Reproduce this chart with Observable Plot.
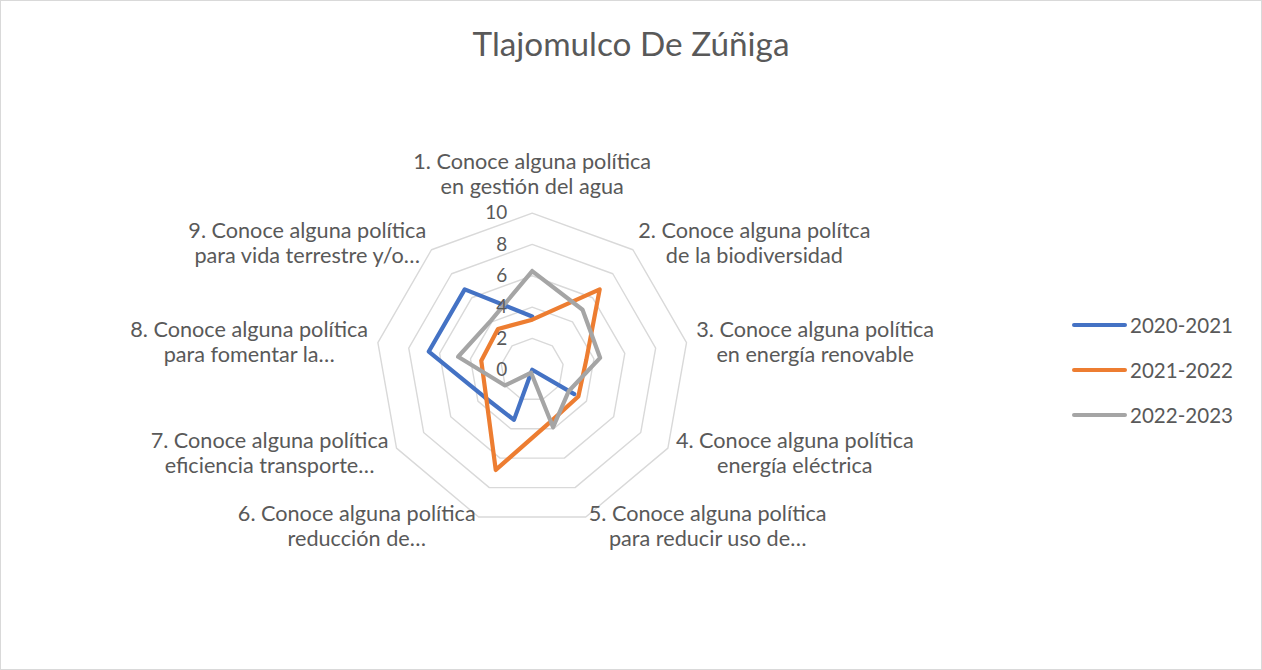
<!DOCTYPE html>
<html><head><meta charset="utf-8">
<script src="https://cdn.jsdelivr.net/npm/d3@7"></script>
<script src="https://cdn.jsdelivr.net/npm/@observablehq/plot@0.6"></script>
<style>
body{margin:0;background:#fff;}
#frame{position:relative;width:1260px;height:668px;border:1px solid #d9d9d9;font-family:Lato,sans-serif;color:#595959;overflow:hidden;background:#fff}
#title{height:80px;box-sizing:border-box;text-align:center;line-height:1;white-space:nowrap}
#legend{position:absolute;left:1071px;top:301px}
.row{display:flex;align-items:center;height:45px}
.sw{width:55px;height:4px;border-radius:2px;margin-right:3px}
</style></head><body>
<div id="frame"><div id="title">Tlajomulco De Zúñiga</div><div id="chart"></div><div id="legend"></div></div>
<script>
const chartTitle = "Tlajomulco De Zúñiga";
const axisLabels = [
  "1. Conoce alguna política\nen gestión del agua",
  "2. Conoce alguna polítca\nde la biodiversidad",
  "3. Conoce alguna política\nen energía renovable",
  "4. Conoce alguna política\nenergía eléctrica",
  "5. Conoce alguna política\npara reducir uso de…",
  "6. Conoce alguna política\nreducción de…",
  "7. Conoce alguna política\neficiencia transporte…",
  "8. Conoce alguna política\npara fomentar la…",
  "9. Conoce alguna política\npara vida terrestre y/o…"
];
const seriesNames = ["2020-2021", "2021-2022", "2022-2023"];
const values2020 = [3.4, null, null, 3.1, 0, 3.4, 3.5, 6.7, 6.7];
const values2021 = [3.2, 6.7, 3.5, 3.4, 3.5, 6.8, 3.4, 3.3, 3.4];
const values2022 = [6.3, 5.0, 4.4, 2.7, 3.9, 0.2, 2.0, 4.8, 4.1];
const tickValues = [0, 2, 4, 6, 8, 10];
const seriesColors = ["#4472C4", "#ED7D31", "#A5A5A5"];

// layout
const W = 1260, H = 588, CX = 530.7, CY = 288.3, RPX = 156.7, RMAX = 10;
const k = RPX / RMAX;
const canvas = document.createElement("canvas");
const ctx = canvas.getContext("2d");
function measure(t, fs) { ctx.font = `${fs}px Lato`; return ctx.measureText(t).width; }
const fsLabel = 100 * 238 / measure("1. Conoce alguna política", 100);
const fsTitle = 100 * 317 / measure(chartTitle, 100);
const fsLegend = 100 * 103 / measure("2020-2021", 100);
const fsTick = 100 * 22 / measure("10", 100);

// title
const titleEl = document.getElementById("title");
titleEl.style.fontSize = fsTitle + "px";
titleEl.style.paddingTop = (55.7 - 0.887 * fsTitle) + "px";

const n = axisLabels.length;
const ang = i => (2 * Math.PI * i) / n;

// rings
const ringPts = [];
for (const t of tickValues.filter(t => t > 0))
  for (let i = 0; i <= n; i++) ringPts.push({ring: t, x: t * Math.sin(ang(i % n)), y: t * Math.cos(ang(i % n))});

// series points (closed)
const allValues = [values2020, values2021, values2022];
const seriesPts = [];
seriesNames.forEach((s, si) => {
  for (let i = 0; i <= n; i++) {
    const v = allValues[si][i % n];
    seriesPts.push({series: s, x: v == null ? NaN : v * Math.sin(ang(i % n)), y: v == null ? NaN : v * Math.cos(ang(i % n))});
  }
});

// axis label positions
const labelPts = axisLabels.map((lab, i) => {
  const th = ang(i), s = Math.sin(th), c = Math.cos(th);
  const w = Math.max(...lab.split("\n").map(l => measure(l, fsLabel)));
  let dxPx, dyPx;
  if (i === 0) { dxPx = 0; dyPx = -40; }
  else { dxPx = Math.sign(s) * (2 + 8 * s * s + w / 2); dyPx = -9 * c; }
  return {text: lab, x: RMAX * s + dxPx / k, y: RMAX * c - dyPx / k};
});

const plot = Plot.plot({
  width: W, height: H, margin: 0,
  x: {domain: [-RMAX, RMAX], range: [CX - RPX, CX + RPX], axis: null},
  y: {domain: [-RMAX, RMAX], range: [CY + RPX, CY - RPX], axis: null},
  color: {domain: seriesNames, range: seriesColors},
  style: {fontFamily: "Lato, sans-serif", color: "#595959", background: "transparent", overflow: "visible"},
  marks: [
    Plot.line(ringPts, {x: "x", y: "y", z: "ring", stroke: "#d9d9d9", strokeWidth: 1.4}),
    Plot.line(seriesPts, {x: "x", y: "y", z: "series", stroke: "series", strokeWidth: 4.2, strokeLinejoin: "round", strokeLinecap: "round"}),
    Plot.text(tickValues, {x: () => 0, y: d => d, text: d => String(d), textAnchor: "end", dx: -25, fontSize: fsTick, fill: "#595959"}),
    Plot.text(labelPts, {x: "x", y: "y", text: "text", textAnchor: "middle", lineAnchor: "middle", lineHeight: 25 / fsLabel, fontSize: fsLabel, fill: "#595959"})
  ]
});
document.getElementById("chart").appendChild(plot);

// legend
const legend = document.getElementById("legend");
seriesNames.forEach((s, i) => {
  const row = document.createElement("div"); row.className = "row";
  const sw = document.createElement("div"); sw.className = "sw"; sw.style.background = seriesColors[i];
  const tx = document.createElement("span"); tx.textContent = s; tx.style.fontSize = fsLegend + "px";
  row.appendChild(sw); row.appendChild(tx); legend.appendChild(row);
});
</script>
</body></html>
